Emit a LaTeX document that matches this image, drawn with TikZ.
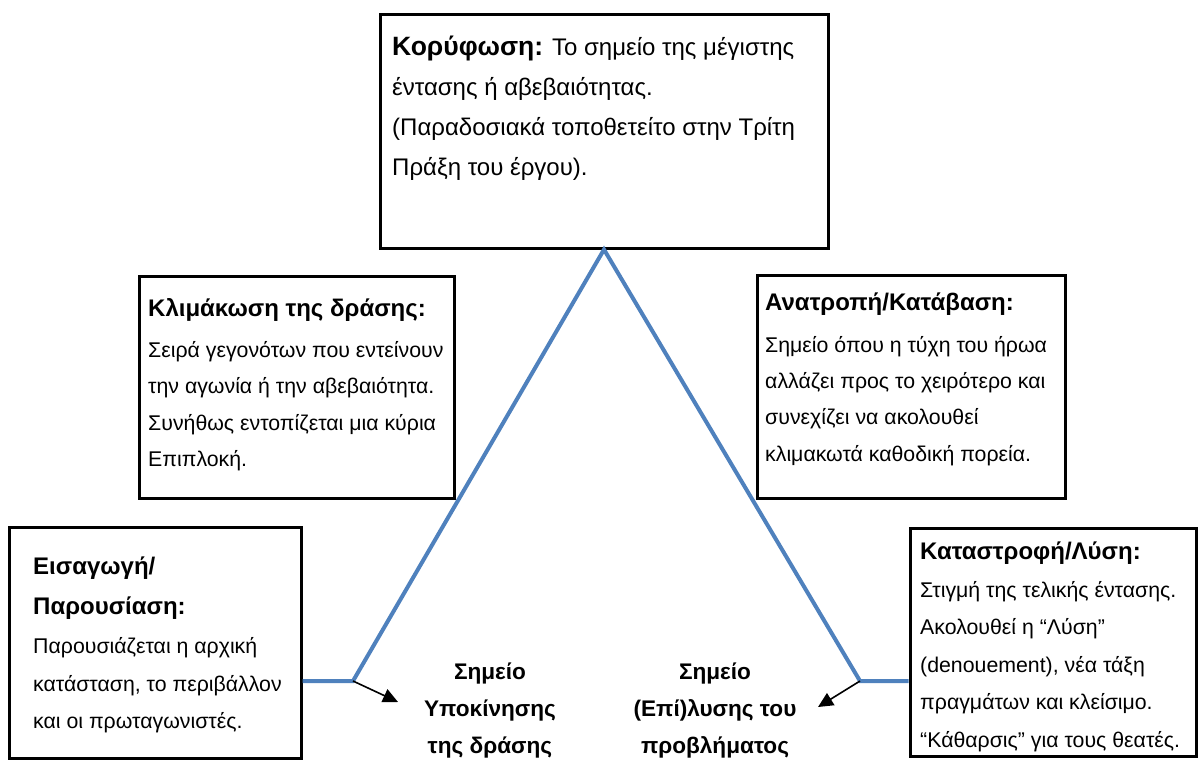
\documentclass[tikz,border=0pt]{standalone}
\usepackage{fontspec}
\setmainfont{Liberation Sans}
\usetikzlibrary{arrows.meta}

\definecolor{plotblue}{RGB}{79,129,189}
\newcommand{\bodysize}{\fontsize{21.3}{37.5}\selectfont}
\newcommand{\headsize}{\fontsize{24}{40}\selectfont\bfseries}

\tikzset{
  box/.style={draw, line width=3pt, inner sep=0pt},
  txt/.style={anchor=north west, align=left, inner sep=0pt, font=\bodysize},
  pointlabel/.style={align=center, inner sep=0pt, font=\fontsize{22.6}{37}\selectfont\bfseries},
  curve/.style={draw=plotblue, line width=4pt},
  pointer/.style={-{Triangle[length=15pt,width=14pt]}, line width=1.6pt}
}

\begin{document}
\begin{tikzpicture}[x=1pt, y=-1pt]
\useasboundingbox (0,0) rectangle (1198,769);

% the five boxes
\node[box, minimum width=448pt, minimum height=234pt] (top) at (604,131) {};
\node[box, minimum width=315pt, minimum height=222pt] (klim) at (296.5,387) {};
\node[box, minimum width=308pt, minimum height=223pt] (anat) at (911,386.5) {};
\node[box, minimum width=292pt, minimum height=231pt] (eisag) at (155,642.5) {};
\node[box, minimum width=286pt, minimum height=228pt] (katastr) at (1053,642) {};

% texts
\node[txt, font=\fontsize{24}{40}\selectfont] (toptext) at (392,36)
  {{\fontsize{26.5}{40}\selectfont\bfseries Κορύφωση:} Το σημείο της μέγιστης\\
   έντασης ή αβεβαιότητας.\\
   (Παραδοσιακά τοποθετείτο στην Τρίτη\\
   Πράξη του έργου).};
\node[txt, font=\fontsize{21.3}{36.3}\selectfont] (klimtext) at (148,298)
  {{\headsize Κλιμάκωση της δράσης:}\\[5pt]
   Σειρά γεγονότων που εντείνουν\\
   την αγωνία ή την αβεβαιότητα.\\
   Συνήθως εντοπίζεται μια κύρια\\
   Επιπλοκή.};
\node[txt, font=\fontsize{21.3}{36.3}\selectfont] (anattext) at (765,293)
  {{\headsize Ανατροπή/Κατάβαση:}\\[5pt]
   Σημείο όπου η τύχη του ήρωα\\
   αλλάζει προς το χειρότερο και\\
   συνεχίζει να ακολουθεί\\
   κλιμακωτά καθοδική πορεία.};
\node[txt] (eisagtext) at (33,557)
  {{\headsize Εισαγωγή/}\\[2pt]
   {\headsize Παρουσίαση:}\\[2pt]
   Παρουσιάζεται η αρχική\\
   κατάσταση, το περιβάλλον\\
   και οι πρωταγωνιστές.};
\node[txt] (katastrtext) at (920,542)
  {{\headsize Καταστροφή/Λύση:}\\
   Στιγμή της τελικής έντασης.\\
   Ακολουθεί η “Λύση”\\
   (denouement), νέα τάξη\\
   πραγμάτων και κλείσιμο.\\
   “Κάθαρσις” για τους θεατές.};

\node[pointlabel] (ypok) at (490,711) {Σημείο\\ Υποκίνησης\\ της δράσης};
\node[pointlabel] (lysi) at (715,711) {Σημείο\\ (Επί)λυσης του\\ προβλήματος};

% the curve
\coordinate (lk) at (353,681);
\coordinate (rk) at (860,681);
\draw[curve] (eisag.east |- lk) -- (lk) -- (top.south) -- (rk) -- (katastr.west |- rk);

\coordinate (lt) at (398,702);
\coordinate (rt) at (818,707);
\draw[pointer] (lk) -- (lt);
\draw[pointer] (rk) -- (rt);

\end{tikzpicture}
\end{document}
